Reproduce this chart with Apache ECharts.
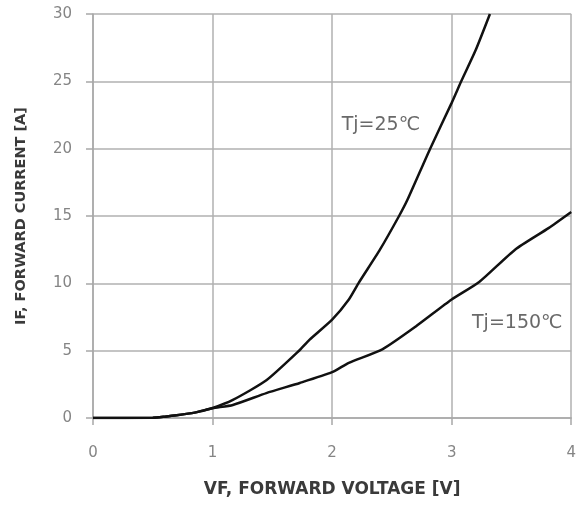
<!DOCTYPE html>
<html><head><meta charset="utf-8">
<script src="https://cdn.jsdelivr.net/npm/echarts@6/dist/echarts.min.js"></script>
<style>html,body{margin:0;padding:0;background:#fff}#c{width:579px;height:507px}</style>
</head><body><div id="c"></div>
<script>
const v25 = [0, 0.5, 0.6, 0.7, 0.85, 1.0, 1.17, 1.45, 1.73, 1.81, 2.0, 2.14, 2.22, 2.4, 2.56, 2.63, 2.82, 3.0, 3.08, 3.2, 3.32];
const i25 = [0, 0.02, 0.1, 0.2, 0.4, 0.74, 1.34, 2.8, 5.05, 5.8, 7.3, 8.8, 10, 12.5, 15, 16.2, 20, 23.4, 25, 27.3, 30];
const v150 = [0, 0.5, 0.6, 0.7, 0.85, 1.0, 1.17, 1.45, 1.73, 2.0, 2.14, 2.42, 2.7, 3.0, 3.23, 3.53, 3.81, 4.0];
const i150 = [0, 0.02, 0.1, 0.2, 0.4, 0.72, 0.97, 1.85, 2.6, 3.4, 4.1, 5.1, 6.8, 8.8, 10.1, 12.5, 14.1, 15.3];
const xTicks = [0, 1, 2, 3, 4];
const yTicks = [0, 5, 10, 15, 20, 25, 30];
const labels = [
  {text: 'Tj=25℃', x: 2.08, y: 21.75},
  {text: 'Tj=150℃', x: 3.17, y: 7.05}
];
const font = '"DejaVu Sans", Verdana, sans-serif';
const chart = echarts.init(document.getElementById('c'));
const zip = (a, b) => a.map((v, k) => [v, b[k]]);
chart.setOption({
  animation: false,
  grid: {left: 93, right: 6, top: 14, bottom: 89},
  xAxis: {
    type: 'value', min: xTicks[0], max: xTicks[xTicks.length - 1], interval: 1,
    name: 'VF, FORWARD VOLTAGE [V]', nameLocation: 'middle', nameGap: 63, nameMoveOverlap: false,
    nameTextStyle: {fontFamily: font, fontWeight: 'bold', fontSize: 17, color: '#3a3a3a'},
    axisLine: {lineStyle: {color: '#a8a8a8', width: 1.5}},
    axisTick: {show: true, length: 7, lineStyle: {color: '#a8a8a8', width: 1.5}},
    axisLabel: {margin: 28, fontFamily: font, fontSize: 15, color: '#858585'},
    splitLine: {show: true, lineStyle: {color: '#b0b0b0', width: 1.5}}
  },
  yAxis: {
    type: 'value', min: yTicks[0], max: yTicks[yTicks.length - 1], interval: 5,
    name: 'IF, FORWARD CURRENT [A]', nameLocation: 'middle', nameGap: 64, nameMoveOverlap: false,
    nameTextStyle: {fontFamily: font, fontWeight: 'bold', fontSize: 14.5, color: '#3a3a3a'},
    axisLine: {show: true, lineStyle: {color: '#a8a8a8', width: 1.5}},
    axisTick: {show: true, length: 7, lineStyle: {color: '#a8a8a8', width: 1.5}},
    axisLabel: {margin: 21, fontFamily: font, fontSize: 15, color: '#858585'},
    splitLine: {show: true, lineStyle: {color: '#b0b0b0', width: 1.5}}
  },
  series: [
    {type: 'line', data: zip(v25, i25), symbol: 'none', smooth: 0.2,
     lineStyle: {color: '#111', width: 2.5}},
    {type: 'line', data: zip(v150, i150), symbol: 'none', smooth: 0.2,
     lineStyle: {color: '#111', width: 2.5}},
    {type: 'scatter', symbolSize: 0, data: labels.map(l => ({value: [l.x, l.y], name: l.text})),
     label: {show: true, position: 'right', distance: 0, formatter: p => p.name,
             fontFamily: font, fontSize: 19, color: '#444'}}
  ]
});
</script></body></html>
